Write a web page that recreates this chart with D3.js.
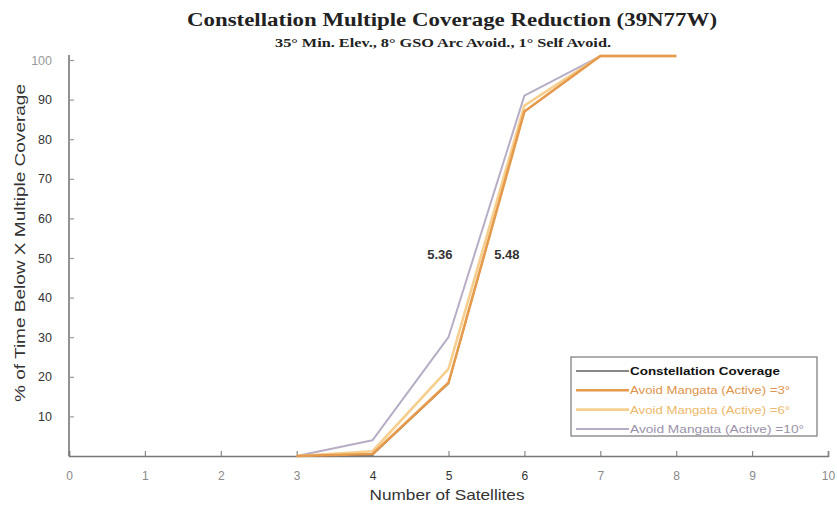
<!DOCTYPE html>
<html><head><meta charset="utf-8">
<script src="https://cdn.jsdelivr.net/npm/d3@7"></script>
<style>body{margin:0;background:#fff}svg{display:block}</style>
</head><body>
<svg id="c" width="837" height="508"></svg>
<script>
const satellites = [3, 4, 5, 6, 7, 8];
const constellationCoverage = [0, 0.3, 18.3, 87, 101, 101];
const avoid3 = [0, 0.5, 18.5, 87, 101, 101];
const avoid6 = [0, 1.2, 22, 88.5, 101, 101];
const avoid10 = [0, 4, 30, 91, 101, 101];
const seriesNames = ["Constellation Coverage", "Avoid Mangata (Active) =3°", "Avoid Mangata (Active) =6°", "Avoid Mangata (Active) =10°"];
const xTicks = [0,1,2,3,4,5,6,7,8,9,10];
const yTicks = [10,20,30,40,50,60,70,80,90,100];
const annotations = [{x: 5.36, y: 50, label: "5.36", dx: -36}, {x: 5.48, y: 50, label: "5.48", dx: 22}];

const svg = d3.select("#c");
const x = d3.scaleLinear().domain([0, 10]).range([69, 828]);
const y = d3.scaleLinear().domain([0, 100]).range([456, 60]);

const series = [
  {name: seriesNames[0], values: constellationCoverage, color: "#222", width: 1.2},
  {name: seriesNames[3], values: avoid10, color: "#b7aec6", width: 2},
  {name: seriesNames[2], values: avoid6, color: "#f6cf8e", width: 2.6},
  {name: seriesNames[1], values: avoid3, color: "#e59a4c", width: 2.6}
];

// axes
const xAxis = svg.append("g").attr("transform", "translate(0,456)")
  .call(d3.axisBottom(x).tickValues(xTicks).tickSize(-5).tickPadding(15).tickFormat(d3.format("d")));
xAxis.select(".domain").attr("stroke", "#777").attr("stroke-width", 1.6);
xAxis.selectAll(".tick line").attr("stroke", "#888").attr("stroke-width", 1.2);
xAxis.selectAll(".tick text").attr("fill", d => (d >= 4 && d <= 6) ? "#333" : "#8a8a8a")
  .style("font-family", "Liberation Sans, Arial, sans-serif").style("font-size", "12px");

const yAxis = svg.append("g").attr("transform", "translate(69,0)")
  .call(d3.axisLeft(y).tickValues(yTicks).tickSize(-5).tickPadding(17));
yAxis.select(".domain").attr("d", "M0,456V55").attr("stroke", "#777").attr("stroke-width", 1.6);
yAxis.selectAll(".tick line").attr("stroke", "#999").attr("stroke-width", 1.2);
yAxis.selectAll(".tick text").attr("fill", d => d === 100 ? "#999" : "#333")
  .style("font-family", "Liberation Sans, Arial, sans-serif").style("font-size", "12.5px");

// lines
const line = d3.line().x((d, i) => x(satellites[i])).y(d => y(d));
series.forEach(s => {
  svg.append("path").datum(s.values).attr("d", line)
    .attr("fill", "none").attr("stroke", s.color).attr("stroke-width", s.width)
    .attr("stroke-linejoin", "round");
});

// annotations
annotations.forEach(a => {
  svg.append("text").attr("x", x(a.x) + a.dx).attr("y", y(a.y) + 1)
    .attr("text-anchor", "middle").attr("font-family", "Liberation Sans, Arial, sans-serif")
    .attr("font-weight", "bold").attr("font-size", 13).attr("fill", "#333").text(a.label);
});

// titles
svg.append("text").attr("x", 452).attr("y", 26).attr("text-anchor", "middle")
  .attr("font-family", "Liberation Serif, Times New Roman, serif").attr("font-weight", "bold")
  .attr("font-size", 18.5).attr("fill", "#222").attr("textLength", 530).attr("lengthAdjust", "spacingAndGlyphs")
  .text("Constellation Multiple Coverage Reduction (39N77W)");
svg.append("text").attr("x", 443).attr("y", 47).attr("text-anchor", "middle")
  .attr("font-family", "Liberation Serif, Times New Roman, serif").attr("font-weight", "bold")
  .attr("font-size", 12).attr("fill", "#222").attr("textLength", 336).attr("lengthAdjust", "spacingAndGlyphs")
  .text("35° Min. Elev., 8° GSO Arc Avoid., 1° Self Avoid.");

svg.append("text").attr("x", 447).attr("y", 500).attr("text-anchor", "middle")
  .attr("font-family", "Liberation Sans, Arial, sans-serif").attr("font-size", 15).attr("fill", "#333")
  .attr("textLength", 155).attr("lengthAdjust", "spacingAndGlyphs").text("Number of Satellites");
svg.append("text").attr("transform", "translate(25,243) rotate(-90)").attr("text-anchor", "middle")
  .attr("font-family", "Liberation Sans, Arial, sans-serif").attr("font-size", 15.5).attr("fill", "#333")
  .attr("textLength", 318).attr("lengthAdjust", "spacingAndGlyphs").text("% of Time Below X Multiple Coverage");

// legend
const lg = svg.append("g");
lg.append("rect").attr("x", 571).attr("y", 357).attr("width", 246).attr("height", 79)
  .attr("fill", "#fff").attr("stroke", "#777").attr("stroke-width", 1.2);
const legendItems = [
  {name: seriesNames[0], color: "#111", w: 1.2, tc: "#111", bold: true, tl: 150},
  {name: seriesNames[1], color: "#e59a4c", w: 2.4, tc: "#e0934a", bold: false, tl: 160},
  {name: seriesNames[2], color: "#f6cf8e", w: 2.6, tc: "#ecb86a", bold: false, tl: 160},
  {name: seriesNames[3], color: "#b7aec6", w: 2, tc: "#9a92aa", bold: false, tl: 174}
];
legendItems.forEach((it, i) => {
  const yy = 371 + i * 19.3;
  lg.append("line").attr("x1", 576).attr("x2", 629).attr("y1", yy).attr("y2", yy)
    .attr("stroke", it.color).attr("stroke-width", it.w);
  lg.append("text").attr("x", 630).attr("y", yy + 4).attr("font-family", "Liberation Sans, Arial, sans-serif")
    .attr("font-size", 11.5).attr("font-weight", it.bold ? "bold" : "normal").attr("fill", it.tc)
    .attr("textLength", it.tl).attr("lengthAdjust", "spacingAndGlyphs").text(it.name);
});
</script>
</body></html>
